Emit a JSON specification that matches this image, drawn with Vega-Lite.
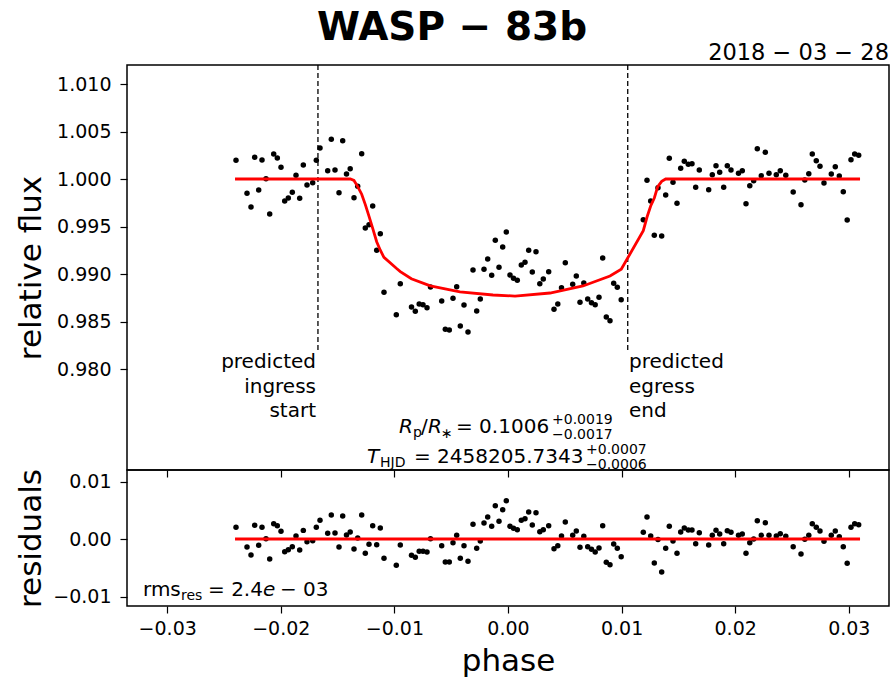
{
  "$schema": "https://vega.github.io/schema/vega-lite/v6.json",
  "autosize": {"type": "pad"},
  "padding": {"left": 14, "top": 9, "right": 3, "bottom": 3},
  "background": "white",
  "title": {"text": "WASP − 83b", "fontSize": 39, "fontWeight": "bold", "font": "DejaVu Sans", "anchor": "middle", "frame": "bounds", "offset": -7, "color": "black"},
  "spacing": 0,
  "bounds": "flush",
  "datasets": {
    "pts": [
      {"phase": -0.023944, "flux": 1.00197, "resid": 0.00203},
      {"phase": -0.022976, "flux": 0.99849, "resid": -0.00139},
      {"phase": -0.022624, "flux": 0.99705, "resid": -0.00278},
      {"phase": -0.022298, "flux": 1.00228, "resid": 0.00238},
      {"phase": -0.021946, "flux": 0.99884, "resid": -0.0011},
      {"phase": -0.021655, "flux": 1.002, "resid": 0.00203},
      {"phase": -0.021303, "flux": 1.00003, "resid": 0.00006},
      {"phase": -0.020977, "flux": 0.99632, "resid": -0.00348},
      {"phase": -0.020625, "flux": 1.00263, "resid": 0.00267},
      {"phase": -0.020308, "flux": 1.00221, "resid": 0.00232},
      {"phase": -0.019983, "flux": 1.00123, "resid": 0.00133},
      {"phase": -0.019657, "flux": 0.99768, "resid": -0.0022},
      {"phase": -0.01934, "flux": 0.998, "resid": -0.00185},
      {"phase": -0.018988, "flux": 0.9986, "resid": -0.00133},
      {"phase": -0.018662, "flux": 1.00039, "resid": 0.00052},
      {"phase": -0.018336, "flux": 0.99797, "resid": -0.0019},
      {"phase": -0.018019, "flux": 1.00147, "resid": 0.0015},
      {"phase": -0.017694, "flux": 0.99937, "resid": -0.00046},
      {"phase": -0.017192, "flux": 0.99961, "resid": -0.0003},
      {"phase": -0.016875, "flux": 1.00197, "resid": 0.00203},
      {"phase": -0.016549, "flux": 1.00326, "resid": 0.00325},
      {"phase": -0.015872, "flux": 1.00087, "resid": 0.00099},
      {"phase": -0.015555, "flux": 1.00418, "resid": 0.00417},
      {"phase": -0.015229, "flux": 1.00095, "resid": 0.00104},
      {"phase": -0.014877, "flux": 0.99856, "resid": -0.00139},
      {"phase": -0.014551, "flux": 1.00403, "resid": 0.004},
      {"phase": -0.014217, "flux": 1.00053, "resid": 0.0007},
      {"phase": -0.013891, "flux": 1.00108, "resid": 0.00122},
      {"phase": -0.013557, "flux": 0.99803, "resid": -0.00174},
      {"phase": -0.013231, "flux": 0.99923, "resid": 0.00017},
      {"phase": -0.012879, "flux": 1.00266, "resid": 0.00417},
      {"phase": -0.012562, "flux": 0.99484, "resid": -0.00249},
      {"phase": -0.012236, "flux": 0.99519, "resid": -0.00093},
      {"phase": -0.01191, "flux": 0.99716, "resid": 0.00232},
      {"phase": -0.011558, "flux": 0.99249, "resid": -0.00099},
      {"phase": -0.011241, "flux": 0.99424, "resid": 0.00191},
      {"phase": -0.010916, "flux": 0.98807, "resid": -0.00336},
      {"phase": -0.009833, "flux": 0.98572, "resid": -0.00458},
      {"phase": -0.009481, "flux": 0.98898, "resid": -0.00104},
      {"phase": -0.008495, "flux": 0.98653, "resid": -0.00284},
      {"phase": -0.00816, "flux": 0.98607, "resid": -0.00319},
      {"phase": -0.007817, "flux": 0.98684, "resid": -0.00215},
      {"phase": -0.007482, "flux": 0.98677, "resid": -0.00215},
      {"phase": -0.00713, "flux": 0.98645, "resid": -0.00226},
      {"phase": -0.006822, "flux": 0.98863, "resid": 0.00006},
      {"phase": -0.005836, "flux": 0.98716, "resid": -0.00116},
      {"phase": -0.005519, "flux": 0.98418, "resid": -0.004},
      {"phase": -0.005167, "flux": 0.98411, "resid": -0.004},
      {"phase": -0.004842, "flux": 0.98744, "resid": -0.00064},
      {"phase": -0.004516, "flux": 0.98866, "resid": 0.00064},
      {"phase": -0.004199, "flux": 0.98453, "resid": -0.00336},
      {"phase": -0.003873, "flux": 0.98674, "resid": -0.00116},
      {"phase": -0.003521, "flux": 0.9839, "resid": -0.00388},
      {"phase": -0.003081, "flux": 0.99042, "resid": 0.00255},
      {"phase": -0.002755, "flux": 0.98611, "resid": -0.00162},
      {"phase": -0.002438, "flux": 0.98737, "resid": -0.00035},
      {"phase": -0.002113, "flux": 0.99049, "resid": 0.00278},
      {"phase": -0.001787, "flux": 0.99158, "resid": 0.00383},
      {"phase": -0.001435, "flux": 0.98986, "resid": 0.0022},
      {"phase": -0.001118, "flux": 0.99355, "resid": 0.0058},
      {"phase": -0.000792, "flux": 0.99071, "resid": 0.00307},
      {"phase": -0.000467, "flux": 0.99284, "resid": 0.0051},
      {"phase": -0.00015, "flux": 0.99442, "resid": 0.00667},
      {"phase": 0.000176, "flux": 0.98989, "resid": 0.0022},
      {"phase": 0.000484, "flux": 0.98956, "resid": 0.00186},
      {"phase": 0.000819, "flux": 0.98934, "resid": 0.00162},
      {"phase": 0.001171, "flux": 0.99095, "resid": 0.00325},
      {"phase": 0.001497, "flux": 0.99123, "resid": 0.00354},
      {"phase": 0.001822, "flux": 0.99249, "resid": 0.0047},
      {"phase": 0.002139, "flux": 0.99021, "resid": 0.00243},
      {"phase": 0.002465, "flux": 0.99235, "resid": 0.00458},
      {"phase": 0.002799, "flux": 0.98898, "resid": 0.00127},
      {"phase": 0.003107, "flux": 0.98947, "resid": 0.00162},
      {"phase": 0.003583, "flux": 0.99024, "resid": 0.00232},
      {"phase": 0.004049, "flux": 0.98628, "resid": -0.00168},
      {"phase": 0.004384, "flux": 0.98684, "resid": -0.00116},
      {"phase": 0.00471, "flux": 0.98856, "resid": 0.00052},
      {"phase": 0.005044, "flux": 0.99119, "resid": 0.00296},
      {"phase": 0.005696, "flux": 0.98892, "resid": 0.00064},
      {"phase": 0.006012, "flux": 0.98979, "resid": 0.00139},
      {"phase": 0.006338, "flux": 0.98702, "resid": -0.00145},
      {"phase": 0.006673, "flux": 0.98905, "resid": 0.00047},
      {"phase": 0.007016, "flux": 0.98737, "resid": -0.00133},
      {"phase": 0.00735, "flux": 0.98698, "resid": -0.0018},
      {"phase": 0.007676, "flux": 0.98677, "resid": -0.00226},
      {"phase": 0.008011, "flux": 0.98755, "resid": -0.00157},
      {"phase": 0.008336, "flux": 0.99168, "resid": 0.00232},
      {"phase": 0.008653, "flux": 0.98547, "resid": -0.00406},
      {"phase": 0.008979, "flux": 0.98508, "resid": -0.00447},
      {"phase": 0.009305, "flux": 0.98902, "resid": -0.00087},
      {"phase": 0.009622, "flux": 0.9886, "resid": -0.00162},
      {"phase": 0.009965, "flux": 0.98729, "resid": -0.00307},
      {"phase": 0.01191, "flux": 0.99572, "resid": 0.00116},
      {"phase": 0.012236, "flux": 0.99986, "resid": 0.00383},
      {"phase": 0.012562, "flux": 0.99769, "resid": 0.00052},
      {"phase": 0.012879, "flux": 0.99409, "resid": -0.00417},
      {"phase": 0.013204, "flux": 0.99908, "resid": -0.0001},
      {"phase": 0.01353, "flux": 0.994, "resid": -0.00574},
      {"phase": 0.013882, "flux": 0.99832, "resid": -0.00162},
      {"phase": 0.014199, "flux": 1.00218, "resid": 0.0022},
      {"phase": 0.014525, "flux": 0.99965, "resid": -0.00035},
      {"phase": 0.014877, "flux": 0.99744, "resid": -0.00249},
      {"phase": 0.015203, "flux": 1.00113, "resid": 0.00122},
      {"phase": 0.01552, "flux": 1.00186, "resid": 0.00191},
      {"phase": 0.015872, "flux": 1.00155, "resid": 0.00157},
      {"phase": 0.016197, "flux": 1.00161, "resid": 0.00157},
      {"phase": 0.016523, "flux": 0.99913, "resid": -0.00081},
      {"phase": 0.01684, "flux": 1.00095, "resid": 0.0011},
      {"phase": 0.017668, "flux": 0.99887, "resid": -0.00104},
      {"phase": 0.017985, "flux": 1.00045, "resid": 0.00064},
      {"phase": 0.01831, "flux": 1.0014, "resid": 0.00151},
      {"phase": 0.018636, "flux": 1.00071, "resid": 0.00087},
      {"phase": 0.018988, "flux": 0.99913, "resid": -0.00081},
      {"phase": 0.019305, "flux": 1.0014, "resid": 0.00145},
      {"phase": 0.01963, "flux": 1.00095, "resid": 0.00116},
      {"phase": 0.020291, "flux": 1.0006, "resid": 0.00064},
      {"phase": 0.020625, "flux": 1.00087, "resid": 0.00087},
      {"phase": 0.020951, "flux": 0.9974, "resid": -0.00249},
      {"phase": 0.021285, "flux": 0.99929, "resid": -0.00064},
      {"phase": 0.021628, "flux": 0.99982, "resid": 0.0},
      {"phase": 0.021946, "flux": 1.00319, "resid": 0.00319},
      {"phase": 0.022298, "flux": 1.00035, "resid": 0.00064},
      {"phase": 0.02265, "flux": 1.00281, "resid": 0.00284},
      {"phase": 0.022976, "flux": 1.0006, "resid": 0.00064},
      {"phase": 0.023618, "flux": 1.00045, "resid": 0.00052},
      {"phase": 0.02397, "flux": 1.00087, "resid": 0.00092},
      {"phase": 0.024455, "flux": 1.00039, "resid": 0.00047},
      {"phase": 0.025106, "flux": 0.99863, "resid": -0.00134},
      {"phase": 0.025793, "flux": 0.9973, "resid": -0.00261},
      {"phase": 0.026127, "flux": 0.99989, "resid": -0.00005},
      {"phase": 0.026479, "flux": 1.00056, "resid": 0.00064},
      {"phase": 0.026787, "flux": 1.00263, "resid": 0.00266},
      {"phase": 0.027139, "flux": 1.00193, "resid": 0.00203},
      {"phase": 0.027465, "flux": 1.00134, "resid": 0.00139},
      {"phase": 0.027817, "flux": 0.99958, "resid": -0.0004},
      {"phase": 0.02846, "flux": 1.00053, "resid": 0.00064},
      {"phase": 0.028812, "flux": 1.00129, "resid": 0.00139},
      {"phase": 0.029164, "flux": 1.00032, "resid": 0.0004},
      {"phase": 0.029516, "flux": 0.99866, "resid": -0.00134},
      {"phase": 0.029859, "flux": 0.99568, "resid": -0.00423},
      {"phase": 0.030194, "flux": 1.00203, "resid": 0.00203},
      {"phase": 0.03052, "flux": 1.00263, "resid": 0.00266},
      {"phase": 0.030872, "flux": 1.00249, "resid": 0.00249}
    ],
    "model": [
      {"phase": -0.02403, "flux": 1.0},
      {"phase": -0.01388, "flux": 1.0},
      {"phase": -0.01356, "flux": 0.99985},
      {"phase": -0.01323, "flux": 0.9992},
      {"phase": -0.01288, "flux": 0.9984},
      {"phase": -0.01256, "flux": 0.9973},
      {"phase": -0.01224, "flux": 0.9961},
      {"phase": -0.01191, "flux": 0.9948},
      {"phase": -0.01156, "flux": 0.9934},
      {"phase": -0.01124, "flux": 0.9925},
      {"phase": -0.01092, "flux": 0.99175},
      {"phase": -0.00983, "flux": 0.9906},
      {"phase": -0.00948, "flux": 0.99025},
      {"phase": -0.00851, "flux": 0.9895},
      {"phase": -0.00684, "flux": 0.98875},
      {"phase": -0.00423, "flux": 0.98811},
      {"phase": -0.00132, "flux": 0.98779},
      {"phase": 0.00062, "flux": 0.98768},
      {"phase": 0.0037, "flux": 0.988},
      {"phase": 0.0066, "flux": 0.98874},
      {"phase": 0.00898, "flux": 0.98979},
      {"phase": 0.00997, "flux": 0.9905},
      {"phase": 0.01191, "flux": 0.99456},
      {"phase": 0.01224, "flux": 0.996},
      {"phase": 0.01256, "flux": 0.99716},
      {"phase": 0.01288, "flux": 0.998},
      {"phase": 0.01318, "flux": 0.9992},
      {"phase": 0.01353, "flux": 0.99975},
      {"phase": 0.01388, "flux": 1.0},
      {"phase": 0.03099, "flux": 1.0}
    ]
  },
  "vconcat": [
    {
      "width": 762,
      "height": 405,
      "encoding": {
        "x": {"field": "phase", "type": "quantitative", "scale": {"domain": [-0.03354, 0.03354], "nice": false, "zero": false}, "axis": {"labels": false, "title": null, "values": [-0.03, -0.02, -0.01, 0, 0.01, 0.02, 0.03]}},
        "y": {"field": "flux", "type": "quantitative", "scale": {"domain": [0.96937, 1.012], "nice": false, "zero": false}, "axis": {"title": "relative flux", "values": [0.98, 0.985, 0.99, 0.995, 1.0, 1.005, 1.01], "format": ".3f", "titleX": -87, "titleBaseline": "alphabetic", "labelPadding": 9}}
      },
      "layer": [
        {"data": {"values": [{"phase": -0.01673, "flux": 1.012, "flux2": 0.982}, {"phase": 0.01054, "flux": 1.012, "flux2": 0.982}]},
         "mark": {"type": "rule", "color": "black", "strokeWidth": 1.3, "strokeDash": [5, 3]},
         "encoding": {"y2": {"field": "flux2"}}},
        {"data": {"name": "pts"}, "mark": {"type": "circle", "size": 30, "color": "black", "opacity": 1}},
        {"data": {"name": "model"}, "mark": {"type": "line", "color": "#ff0000", "strokeWidth": 2.8}},
        {"data": {"values": [{"phase": -0.016901, "flux": 0.980105, "label": "predicted\ningress\nstart"}]},
         "mark": {"type": "text", "align": "right", "baseline": "alphabetic", "fontSize": 20, "lineBreak": "\n", "lineHeight": 24.5, "color": "black"},
         "encoding": {"text": {"field": "label"}}},
        {"data": {"values": [{"phase": 0.010651, "flux": 0.980105, "label": "predicted\negress\nend"}]},
         "mark": {"type": "text", "align": "left", "baseline": "alphabetic", "fontSize": 20, "lineBreak": "\n", "lineHeight": 24.5, "color": "black"},
         "encoding": {"text": {"field": "label"}}},
        {"data": {"values": [
            {"phase": -0.007658, "flux": 0.973263, "label": "/"},
            {"phase": -0.004577, "flux": 0.973263, "label": "= 0.1006"},
            {"phase": -0.008275, "flux": 0.970105, "label": "= 2458205.7343"}]},
         "mark": {"type": "text", "align": "left", "baseline": "alphabetic", "fontSize": 20, "color": "black"},
         "encoding": {"text": {"field": "label"}}},
        {"data": {"values": [
            {"phase": -0.009595, "flux": 0.973263, "label": "R"},
            {"phase": -0.007042, "flux": 0.973263, "label": "R"},
            {"phase": -0.012412, "flux": 0.970105, "label": "T"}]},
         "mark": {"type": "text", "align": "left", "baseline": "alphabetic", "fontSize": 20, "fontStyle": "italic", "color": "black"},
         "encoding": {"text": {"field": "label"}}},
        {"data": {"values": [
            {"phase": -0.008363, "flux": 0.972842, "label": "p"},
            {"phase": -0.005898, "flux": 0.972737, "label": "∗"},
            {"phase": -0.011268, "flux": 0.969684, "label": "HJD"},
            {"phase": 0.003873, "flux": 0.97421, "label": "+0.0019"},
            {"phase": 0.003873, "flux": 0.972684, "label": "−0.0017"},
            {"phase": 0.006866, "flux": 0.971052, "label": "+0.0007"},
            {"phase": 0.006866, "flux": 0.969526, "label": "−0.0006"}]},
         "mark": {"type": "text", "align": "left", "baseline": "alphabetic", "fontSize": 14, "color": "black"},
         "encoding": {"text": {"field": "label"}}},
        {"data": {"values": [{"phase": 0.03354, "flux": 1.01253, "label": "2018 − 03 − 28"}]},
         "mark": {"type": "text", "align": "right", "baseline": "alphabetic", "fontSize": 22.5, "color": "black"},
         "encoding": {"text": {"field": "label"}}}
      ]
    },
    {
      "width": 762,
      "height": 136,
      "encoding": {
        "x": {"field": "phase", "type": "quantitative", "scale": {"domain": [-0.03354, 0.03354], "nice": false, "zero": false}, "axis": {"title": "phase", "values": [-0.03, -0.02, -0.01, 0, 0.01, 0.02, 0.03], "format": ".2f", "titlePadding": 8, "labelPadding": 6}},
        "y": {"field": "resid", "type": "quantitative", "scale": {"domain": [-0.011652, 0.012], "nice": false, "zero": false}, "axis": {"title": "residuals", "values": [-0.01, 0, 0.01], "format": ".2f", "titleX": -87, "titleBaseline": "alphabetic", "labelPadding": 9}}
      },
      "layer": [
        {"data": {"name": "pts"}, "mark": {"type": "circle", "size": 30, "color": "black", "opacity": 1}},
        {"data": {"values": [{"phase": -0.02403, "resid": 0}, {"phase": 0.03099, "resid": 0}]}, "mark": {"type": "line", "color": "#ff0000", "strokeWidth": 2.8}},
        {"data": {"values": [
            {"phase": -0.03213, "resid": -0.009913, "label": "rms"},
            {"phase": -0.026408, "resid": -0.009913, "label": "= 2.4"},
            {"phase": -0.020071, "resid": -0.009913, "label": "− 03"}]},
         "mark": {"type": "text", "align": "left", "baseline": "alphabetic", "fontSize": 20, "color": "black"},
         "encoding": {"text": {"field": "label"}}},
        {"data": {"values": [{"phase": -0.021567, "resid": -0.009913, "label": "e"}]},
         "mark": {"type": "text", "align": "left", "baseline": "alphabetic", "fontSize": 20, "fontStyle": "italic", "color": "black"},
         "encoding": {"text": {"field": "label"}}},
        {"data": {"values": [{"phase": -0.028785, "resid": -0.010609, "label": "res"}]},
         "mark": {"type": "text", "align": "left", "baseline": "alphabetic", "fontSize": 14, "color": "black"},
         "encoding": {"text": {"field": "label"}}}
      ]
    }
  ],
  "config": {
    "font": "DejaVu Sans",
    "view": {"stroke": "black", "strokeWidth": 1.5},
    "axis": {"domain": false, "grid": false, "tickColor": "black", "tickSize": 7, "tickWidth": 1.2, "labelColor": "black", "labelFontSize": 19, "labelPadding": 4, "labelFont": "DejaVu Sans", "titleFont": "DejaVu Sans", "titleFontSize": 31, "titleFontWeight": "normal", "titleColor": "black"}
  }
}
